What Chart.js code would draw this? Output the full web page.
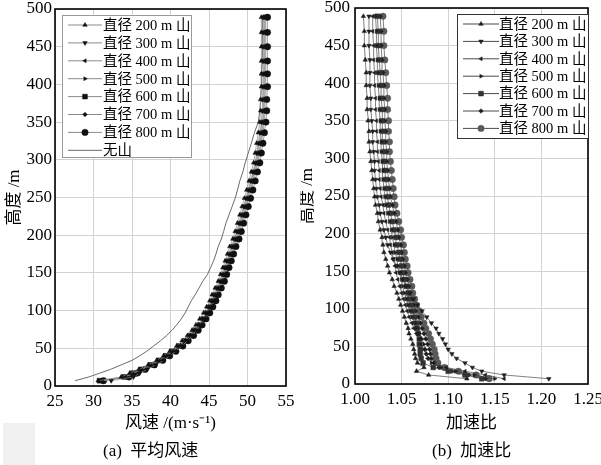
<!DOCTYPE html>
<html>
<head>
<meta charset="utf-8">
<script src="https://cdn.jsdelivr.net/npm/chart.js@4.4.1/dist/chart.umd.min.js"></script>
<style>
  body { margin: 0; background: #fff; width: 601px; height: 465px; overflow: hidden; position: relative;
         font-family: 'Liberation Serif', 'Noto Sans CJK SC', serif; }
  #left { position: absolute; left: 0; top: 0; }
  #right { position: absolute; left: 300px; top: 0; }
  .cap { position: absolute; top: 441px; font-size: 17px; line-height: 20px; color: #000; white-space: nowrap; }
</style>
</head>
<body>
<div style="position:absolute;left:3px;top:423px;width:32px;height:42px;background:#f1f1f1"></div>
<canvas id="left" width="300" height="465" style="width:300px;height:465px"></canvas>
<canvas id="right" width="301" height="465" style="width:301px;height:465px"></canvas>
<div class="cap" style="left:103px">(a)&nbsp;&nbsp;平均风速</div>
<div class="cap" style="left:432px">(b)&nbsp;&nbsp;加速比</div>
<script>
// heights of the sample points (m)
const heights = [7,12,17,22,28,34,40,46, 53,60,67,74,81,89,97,105, 113,121,130,139,148,157,166,175,
  185,195,205,216,227,238,249,260, 272,284,296,309,322,336,350,365, 380,397,414,431,450,469,489];

const labels = ['直径 200 m 山','直径 300 m 山','直径 400 m 山','直径 500 m 山','直径 600 m 山','直径 700 m 山','直径 800 m 山'];
const noHillLabel = '无山';

// (a) mean wind speed, m/s
const speed200 = [30.6,33.6,34.7,35.9,37.1,38.2,39.1,39.9, 40.8,41.5,42.2,42.8,43.3,43.8,44.3,44.7,
  45.1,45.4,45.8,46.2,46.5,46.8,47.1,47.4, 47.7,48.1,48.4,48.7,49.0,49.3,49.6,49.9,
  50.2,50.5,50.8,51.0,51.2,51.4,51.6,51.7, 51.7,51.8,51.8,51.8,51.8,51.8,51.8];
const speed300 = [32.3,35.2,36.0,37.0,38.1,39.1,39.9,40.7, 41.5,42.2,42.8,43.4,43.8,44.2,44.6,44.9,
  45.3,45.6,46.0,46.4,46.7,47.0,47.3,47.6, 47.9,48.3,48.6,48.9,49.2,49.5,49.8,50.1,
  50.4,50.7,51.0,51.2,51.4,51.6,51.8,51.9, 51.9,52.0,52.0,52.0,52.0,52.0,52.0];
const speed400 = [31.2,34.1,35.1,36.2,37.4,38.5,39.4,40.2, 41.1,41.8,42.5,43.1,43.6,44.1,44.6,45.0,
  45.4,45.7,46.1,46.5,46.8,47.1,47.4,47.7, 48.0,48.4,48.7,49.0,49.3,49.6,49.9,50.2,
  50.5,50.8,51.1,51.3,51.5,51.7,51.9,52.0, 52.0,52.1,52.1,52.1,52.1,52.1,52.1];
const speed500 = [31.0,34.2,35.2,36.3,37.5,38.6,39.5,40.3, 41.2,41.9,42.6,43.2,43.7,44.2,44.7,45.1,
  45.5,45.8,46.2,46.6,46.9,47.2,47.5,47.8, 48.1,48.5,48.8,49.1,49.4,49.7,50.0,50.3,
  50.6,50.9,51.2,51.4,51.6,51.8,52.0,52.1, 52.1,52.2,52.2,52.2,52.2,52.2,52.2];
const speed600 = [30.8,34.0,35.1,36.2,37.4,38.5,39.4,40.2, 41.1,41.9,42.6,43.2,43.8,44.3,44.8,45.2,
  45.6,45.9,46.3,46.7,47.0,47.3,47.6,47.9, 48.2,48.6,48.9,49.2,49.5,49.8,50.1,50.4,
  50.7,51.0,51.3,51.5,51.7,51.9,52.1,52.2, 52.2,52.3,52.3,52.3,52.3,52.3,52.3];
const speed700 = [31.1,34.4,35.5,36.6,37.8,38.9,39.8,40.6, 41.5,42.2,42.9,43.5,44.0,44.5,45.0,45.3,
  45.7,46.0,46.4,46.8,47.1,47.4,47.7,48.0, 48.3,48.7,49.0,49.3,49.6,49.9,50.2,50.5,
  50.8,51.1,51.4,51.6,51.8,52.0,52.2,52.3, 52.3,52.4,52.4,52.4,52.4,52.4,52.4];
const speed800 = [31.3,34.6,35.6,36.7,37.9,39.0,39.9,40.7, 41.6,42.3,43.0,43.6,44.1,44.6,45.1,45.5,
  45.9,46.2,46.6,47.0,47.3,47.6,47.9,48.2, 48.5,48.9,49.2,49.5,49.8,50.1,50.4,50.7,
  51.0,51.3,51.6,51.8,52.0,52.2,52.4,52.5, 52.5,52.6,52.6,52.6,52.6,52.6,52.6];
const speedNoHill = [27.6,29.4,30.8,32.2,33.6,35.0,36.0,36.9, 37.8,38.7,39.5,40.2,40.8,41.4,41.9,42.3,
  42.7,43.2,43.7,44.2,44.8,45.2,45.6,45.9, 46.2,46.6,46.9,47.2,47.6,48.0,48.4,48.7,
  49.0,49.4,49.7,50.1,50.5,50.9,51.4,51.6, 51.7,51.8,51.8,51.9,51.9,51.9,52.0];

// (b) speed-up ratio
const ratio200 = [1.120,1.079,1.066,1.074,1.067,1.065,1.064,1.063, 1.062,1.060,1.058,1.057,1.055,1.053,1.051,1.049,
  1.047,1.045,1.042,1.040,1.037,1.035,1.033,1.031, 1.030,1.029,1.027,1.025,1.024,1.022,1.021,1.020,
  1.019,1.018,1.017,1.016,1.015,1.015,1.014,1.013, 1.013,1.012,1.012,1.011,1.010,1.010,1.009];
const ratio300 = [1.208,1.160,1.136,1.126,1.118,1.109,1.104,1.100, 1.097,1.094,1.090,1.087,1.082,1.077,1.072,1.067,
  1.063,1.059,1.055,1.051,1.048,1.045,1.041,1.038, 1.035,1.033,1.031,1.029,1.027,1.026,1.024,1.023,
  1.022,1.021,1.021,1.020,1.019,1.019,1.018,1.017, 1.017,1.016,1.016,1.016,1.015,1.015,1.015];
const ratio400 = [1.160,1.140,1.118,1.098,1.084,1.078,1.076,1.074, 1.071,1.069,1.066,1.063,1.061,1.058,1.056,1.054,
  1.052,1.050,1.048,1.046,1.044,1.043,1.041,1.040, 1.038,1.037,1.035,1.033,1.031,1.030,1.028,1.027,
  1.026,1.026,1.025,1.024,1.024,1.023,1.023,1.022, 1.022,1.021,1.021,1.020,1.020,1.019,1.019];
const ratio500 = [1.150,1.128,1.108,1.092,1.082,1.079,1.077,1.076, 1.074,1.072,1.069,1.066,1.064,1.061,1.059,1.057,
  1.055,1.053,1.051,1.050,1.048,1.046,1.045,1.043, 1.042,1.040,1.039,1.037,1.035,1.033,1.032,1.031,
  1.030,1.030,1.029,1.028,1.028,1.027,1.027,1.026, 1.026,1.025,1.024,1.024,1.023,1.023,1.022];
const ratio600 = [1.136,1.118,1.100,1.084,1.073,1.071,1.070,1.070, 1.069,1.069,1.068,1.067,1.066,1.064,1.062,1.060,
  1.058,1.057,1.055,1.053,1.051,1.050,1.048,1.047, 1.045,1.044,1.042,1.040,1.038,1.036,1.035,1.034,
  1.033,1.032,1.031,1.031,1.030,1.030,1.029,1.029, 1.028,1.028,1.027,1.026,1.025,1.025,1.024];
const ratio700 = [1.140,1.122,1.104,1.090,1.085,1.082,1.081,1.080, 1.078,1.076,1.074,1.072,1.070,1.068,1.065,1.063,
  1.061,1.059,1.058,1.056,1.054,1.053,1.051,1.050, 1.049,1.047,1.046,1.044,1.042,1.040,1.038,1.037,
  1.036,1.035,1.034,1.034,1.033,1.033,1.032,1.032, 1.031,1.031,1.030,1.029,1.028,1.028,1.027];
const ratio800 = [1.144,1.130,1.111,1.096,1.089,1.087,1.086,1.085, 1.083,1.081,1.079,1.076,1.074,1.071,1.069,1.066,
  1.064,1.062,1.061,1.059,1.057,1.056,1.054,1.053, 1.052,1.050,1.049,1.047,1.045,1.043,1.042,1.041,
  1.040,1.039,1.038,1.037,1.037,1.036,1.036,1.035, 1.035,1.034,1.033,1.032,1.031,1.031,1.030];

const speedTicks = [25, 30, 35, 40, 45, 50, 55];
const ratioTicks = [1.00, 1.05, 1.10, 1.15, 1.20, 1.25];
const heightTicks = [0, 50, 100, 150, 200, 250, 300, 350, 400, 450, 500];

const FONT = "'Liberation Serif', 'Noto Sans CJK SC', serif";

// marker per mountain size
const markers = [
  { style: 'triangle', rot: 0, r: 2.6 },
  { style: 'triangle', rot: 180, r: 2.6 },
  { style: 'triangle', rot: -90, r: 2.3 },
  { style: 'triangle', rot: 90, r: 2.3 },
  { style: 'rect', rot: 0, r: 3.4 },
  { style: 'rectRot', rot: 0, r: 2.3 },
  { style: 'circle', rot: 0, r: 3.2 }
];

function series(vals, i, fill, line) {
  const m = markers[i];
  return {
    label: labels[i],
    data: heights.map((h, k) => ({ x: vals[k], y: h })),
    showLine: true,
    borderColor: line,
    borderWidth: 0.7,
    pointStyle: m.style,
    pointRotation: m.rot,
    pointRadius: m.r,
    pointBackgroundColor: fill,
    pointBorderColor: fill,
    pointBorderWidth: 0.5
  };
}

const frame = {
  id: 'frame',
  afterDraw(chart) {
    const a = chart.chartArea, ctx = chart.ctx;
    ctx.save();
    ctx.strokeStyle = '#000';
    ctx.lineWidth = 1.6;
    ctx.strokeRect(a.left, a.top, a.right - a.left, a.bottom - a.top);
    ctx.restore();
  }
};

const boxLegend = {
  id: 'boxLegend',
  afterDraw(chart, args, o) {
    const ctx = chart.ctx;
    ctx.save();
    ctx.fillStyle = '#fff';
    ctx.fillRect(o.x, o.y, o.w, o.h);
    ctx.strokeStyle = o.border;
    ctx.lineWidth = 1;
    ctx.strokeRect(o.x + 0.5, o.y + 0.5, o.w, o.h);
    chart.data.datasets.forEach((ds, i) => {
      const y = o.y0 + i * o.dy;
      ctx.strokeStyle = ds.borderColor;
      ctx.lineWidth = 1;
      ctx.beginPath();
      ctx.moveTo(o.x0, y);
      ctx.lineTo(o.x1, y);
      ctx.stroke();
      if (ds.pointRadius > 0) {
        ctx.fillStyle = ds.pointBackgroundColor;
        ctx.strokeStyle = ds.pointBorderColor;
        ctx.lineWidth = 0.5;
        Chart.helpers.drawPoint(ctx, { pointStyle: ds.pointStyle, rotation: ds.pointRotation || 0,
          radius: ds.pointRadius, borderWidth: 0.5 }, (o.x0 + o.x1) / 2, y);
      }
      ctx.fillStyle = '#000';
      ctx.font = o.font;
      ctx.textBaseline = 'middle';
      ctx.textAlign = 'left';
      ctx.fillText(ds.label, o.tx, y + 1);
    });
    ctx.restore();
  }
};

function axes(xTicks, xTitle, xFmt, titlePad, tickPad) {
  return {
    x: {
      type: 'linear',
      min: xTicks[0], max: xTicks[xTicks.length - 1],
      afterBuildTicks: s => { s.ticks = xTicks.map(v => ({ value: v })); },
      afterFit: s => { s.height = 52; s.paddingLeft = 0; s.paddingRight = 0; },
      grid: { color: '#d2d2d2', lineWidth: 1, drawTicks: false },
      border: { display: false },
      ticks: { padding: 5, color: '#000', font: { family: FONT, size: 17 }, maxRotation: 0, autoSkip: false,
               callback: xFmt },
      title: { display: true, text: xTitle, color: '#000', font: { family: FONT, size: 17 }, padding: { top: 4, bottom: 4 } }
    },
    y: {
      type: 'linear',
      min: 0, max: 500,
      afterBuildTicks: s => { s.ticks = heightTicks.map(v => ({ value: v })); },
      afterFit: s => { s.width = 55; s.paddingTop = 0; s.paddingBottom = 0; },
      grid: { color: '#d2d2d2', lineWidth: 1, drawTicks: false },
      border: { display: false },
      ticks: { padding: tickPad, color: '#000', font: { family: FONT, size: 17 }, autoSkip: false },
      title: { display: true, text: '高度 /m', color: '#000', font: { family: FONT, size: 17 }, padding: { top: titlePad, bottom: 0 } }
    }
  };
}

const common = {
  type: 'scatter',
  plugins: [frame, boxLegend]
};

const leftSets = [speed200, speed300, speed400, speed500, speed600, speed700, speed800]
  .map((v, i) => series(v, i, '#111', '#8a8a8a'));
leftSets.push({
  label: noHillLabel,
  data: heights.map((h, k) => ({ x: speedNoHill[k], y: h })),
  showLine: true, borderColor: '#6a6a6a', borderWidth: 1, pointRadius: 0
});

new Chart(document.getElementById('left'), {
  ...common,
  data: { datasets: leftSets },
  options: {
    responsive: false, animation: false,
    layout: { padding: { left: 0, right: 14, top: 9, bottom: 27 } },
    scales: axes(speedTicks, '风速 /(m·s⁻¹)', v => v, 4.8, 3),
    plugins: {
      legend: { display: false }, tooltip: { enabled: false },
      boxLegend: { x: 62, y: 15, w: 129, h: 142, y0: 25, dy: 17.9, x0: 68, x1: 102, tx: 103,
                   border: '#9a9a9a', font: "14.5px " + FONT }
    }
  }
});

const rightSets = [ratio200, ratio300, ratio400, ratio500, ratio600, ratio700, ratio800]
  .map((v, i) => series(v, i, i === 6 ? '#5a5a5a' : (i === 4 ? '#333' : '#1e1e1e'), '#4a4a4a'));

new Chart(document.getElementById('right'), {
  ...common,
  data: { datasets: rightSets },
  options: {
    responsive: false, animation: false,
    layout: { padding: { left: 0, right: 13, top: 8, bottom: 27 } },
    scales: (() => {
      const s = axes(ratioTicks, '加速比', v => Number(v).toFixed(2), -2.7, 5);
      s.x.afterFit = sc => { sc.height = 54; sc.paddingLeft = 0; sc.paddingRight = 0; };
      return s;
    })(),
    plugins: {
      legend: { display: false }, tooltip: { enabled: false },
      boxLegend: { x: 157, y: 14, w: 131, h: 124, y0: 24, dy: 17.4, x0: 163, x1: 199, tx: 199,
                   border: '#333', font: "14.5px " + FONT }
    }
  }
});
</script>
</body>
</html>
